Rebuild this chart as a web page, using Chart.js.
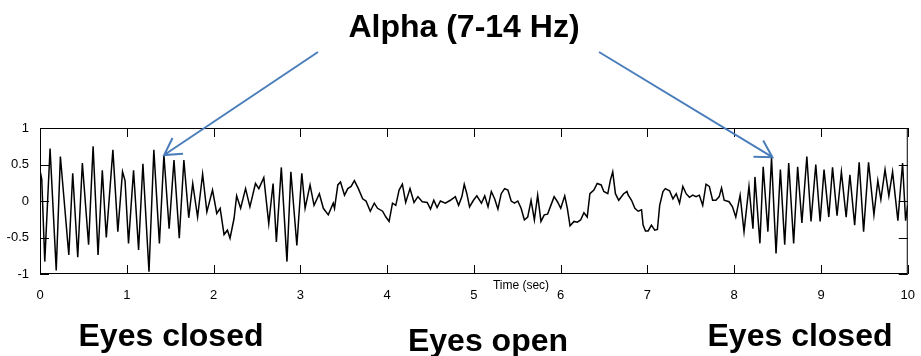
<!DOCTYPE html>
<html>
<head>
<meta charset="utf-8">
<script src="https://cdn.jsdelivr.net/npm/chart.js@4/dist/chart.umd.min.js"></script>
<style>
    html, body { margin: 0; padding: 0; background: #fff; }
    #wrap { position: relative; width: 921px; height: 356px; }
    .lbl {
        position: absolute;
        transform: translate(-50%, -50%);
        font-family: Arial, "Liberation Sans", sans-serif;
        font-weight: bold;
        font-size: 32px;
        line-height: 1;
        white-space: nowrap;
        color: #000;
    }
    .axis-name { font-weight: normal; font-size: 12px; }
</style>
</head>
<body>
<div id="wrap">
    <canvas id="eeg-chart" width="921" height="356"></canvas>
    <div class="lbl" style="left:464px; top:26px;">Alpha (7-14 Hz)</div>
    <div class="lbl axis-name" style="left:521px; top:285px;">Time (sec)</div>
    <div class="lbl" style="left:171px; top:335px;">Eyes closed</div>
    <div class="lbl" style="left:488px; top:340px;">Eyes open</div>
    <div class="lbl" style="left:800px; top:335px;">Eyes closed</div>
</div>
<script>
// time (s) and amplitude
const timeSec = [
    0.00, 0.02, 0.055, 0.116, 0.187, 0.235, 0.332, 0.377, 0.435, 0.488,
    0.56, 0.612, 0.669, 0.718, 0.764, 0.84, 0.897, 0.951, 0.98, 1.02,
    1.078, 1.136, 1.186, 1.256, 1.312, 1.376, 1.428, 1.488, 1.544, 1.605,
    1.658, 1.714, 1.76, 1.816, 1.874, 1.923, 1.988, 2.037, 2.076, 2.121,
    2.16, 2.19, 2.236, 2.266, 2.312, 2.369, 2.419, 2.483, 2.522, 2.579,
    2.636, 2.686, 2.724, 2.781, 2.846, 2.891, 2.96, 3.017, 3.055, 3.112,
    3.158, 3.219, 3.265, 3.322, 3.379, 3.394, 3.432, 3.463, 3.509, 3.547,
    3.585, 3.623, 3.669, 3.718, 3.757, 3.806, 3.852, 3.89, 3.948, 3.986,
    4.023, 4.062, 4.10, 4.138, 4.176, 4.214, 4.264, 4.31, 4.355, 4.405,
    4.462, 4.50, 4.538, 4.576, 4.614, 4.671, 4.729, 4.786, 4.824, 4.862,
    4.889, 4.919, 4.95, 4.995, 5.034, 5.087, 5.125, 5.163, 5.201, 5.239,
    5.277, 5.315, 5.354, 5.392, 5.43, 5.468, 5.506, 5.544, 5.582, 5.62,
    5.659, 5.697, 5.735, 5.773, 5.811, 5.849, 5.887, 5.925, 5.963, 6.001,
    6.047, 6.077, 6.108, 6.154, 6.192, 6.23, 6.268, 6.306, 6.337, 6.383,
    6.421, 6.467, 6.497, 6.543, 6.574, 6.60, 6.631, 6.669, 6.726, 6.764,
    6.779, 6.817, 6.855, 6.893, 6.932, 6.95, 6.977, 7.008, 7.046, 7.084,
    7.115, 7.141, 7.179, 7.206, 7.255, 7.294, 7.332, 7.37, 7.408, 7.446,
    7.484, 7.522, 7.56, 7.598, 7.637, 7.675, 7.713, 7.751, 7.789, 7.827,
    7.854, 7.884, 7.941, 7.98, 8.018, 8.068, 8.113, 8.17, 8.216, 8.239,
    8.296, 8.334, 8.388, 8.43, 8.482, 8.532, 8.582, 8.628, 8.685, 8.731,
    8.78, 8.837, 8.885, 8.94, 8.99, 9.035, 9.09, 9.133, 9.185, 9.235,
    9.29, 9.333, 9.388, 9.44, 9.491, 9.548, 9.61, 9.655, 9.69, 9.738,
    9.782, 9.825, 9.857, 9.886, 9.94, 9.975, 10.0
];
const amplitude = [
    0.42, 0.30, -0.83, 0.72, -0.95, 0.61, -0.74, 0.38, -0.77, 0.52,
    -0.60, 0.75, -0.74, 0.42, -0.50, 0.70, -0.42, 0.40, 0.28, -0.58,
    0.42, -0.67, 0.51, -0.97, 0.70, -0.58, 0.63, -0.38, 0.56, -0.51,
    0.56, -0.23, 0.24, -0.22, 0.37, -0.15, 0.15, -0.17, -0.10, -0.46,
    -0.40, -0.51, -0.24, 0.07, -0.10, 0.17, -0.08, 0.24, 0.17, 0.32,
    -0.31, 0.24, -0.56, 0.46, -0.83, 0.40, -0.61, 0.38, -0.10, 0.22,
    -0.06, 0.10, -0.10, -0.19, -0.03, -0.10, 0.22, 0.26, 0.08, 0.17,
    0.20, 0.28, 0.17, 0.03, 0.00, -0.14, -0.03, -0.10, -0.14, -0.22,
    -0.28, -0.03, -0.06, 0.15, 0.23, -0.02, 0.17, -0.02, 0.06, -0.01,
    -0.02, -0.11, 0.01, -0.09, 0.00, -0.03, 0.01, 0.06, -0.06, 0.06,
    0.23, 0.10, -0.08, 0.01, 0.07, -0.03, 0.07, -0.08, 0.13, 0.03,
    -0.11, 0.10, 0.17, 0.15, 0.00, -0.03, 0.00, -0.10, -0.26, -0.22,
    0.01, -0.26, 0.08, -0.28, -0.19, -0.18, -0.06, 0.06, -0.01, -0.10,
    0.07, -0.10, -0.34, -0.28, -0.29, -0.26, -0.16, -0.22, 0.10, 0.15,
    0.24, 0.22, 0.13, 0.10, 0.29, 0.40, 0.10, 0.01, 0.10, 0.13,
    0.08, 0.01, -0.10, -0.14, -0.12, -0.33, -0.41, -0.41, -0.33, -0.40,
    -0.39, -0.06, 0.13, 0.17, 0.14, 0.03, 0.10, -0.03, 0.20, 0.10,
    0.05, 0.08, 0.06, 0.08, -0.06, 0.23, 0.20, 0.01, 0.01, 0.06,
    0.18, 0.01, -0.01, -0.08, -0.22, 0.08, -0.42, 0.20, -0.38, 0.33,
    -0.58, 0.47, -0.42, 0.59, -0.72, 0.43, -0.60, 0.52, -0.58, 0.47,
    -0.30, 0.61, -0.28, 0.50, -0.28, 0.43, -0.22, 0.46, -0.20, 0.40,
    -0.22, 0.36, -0.33, 0.53, -0.42, 0.53, -0.19, 0.28, 0.02, 0.43,
    0.07, 0.40, 0.05, -0.27, 0.52, -0.27, -0.05
];
const xTicks = [0, 1, 2, 3, 4, 5, 6, 7, 8, 9, 10];
const yTicks = [-1, -0.5, 0, 0.5, 1];
// alpha bursts the arrows point at [time, amplitude]
const arrowTargets = [[1.43, 0.63], [8.44, 0.60]];
const arrowStarts = [[318, 52], [599, 52]];

const ctx = document.getElementById("eeg-chart");

const points = timeSec.map((t, i) => ({ x: t, y: amplitude[i] }));

// box, inward ticks on all four sides, and the blue arrows
const frameAndArrows = {
    id: "frameAndArrows",
    afterDraw(chart) {
        const c = chart.ctx;
        const { left, right, top, bottom } = chart.chartArea;
        const xs = chart.scales.x;
        const ys = chart.scales.y;
        const tick = 9;
        c.save();
        c.strokeStyle = "#000";
        c.lineWidth = 1;
        c.strokeRect(left + 0.5, top + 0.5, right - left - 1, bottom - top - 1);
        c.beginPath();
        xTicks.forEach((v) => {
            const px = Math.round(xs.getPixelForValue(v)) + 0.5;
            c.moveTo(px, top);
            c.lineTo(px, top + tick);
            c.moveTo(px, bottom);
            c.lineTo(px, bottom - tick);
        });
        yTicks.forEach((v) => {
            const py = Math.round(ys.getPixelForValue(v)) + 0.5;
            c.moveTo(left, py);
            c.lineTo(left + tick, py);
            c.moveTo(right, py);
            c.lineTo(right - tick, py);
        });
        c.stroke();

        c.strokeStyle = "#4A7EBB";
        c.lineWidth = 2;
        arrowTargets.forEach((target, i) => {
            const tx = xs.getPixelForValue(target[0]);
            const ty = ys.getPixelForValue(target[1]);
            const [sx, sy] = arrowStarts[i];
            const ang = Math.atan2(sy - ty, sx - tx);
            const head = 19;
            c.beginPath();
            c.moveTo(sx, sy);
            c.lineTo(tx, ty);
            c.moveTo(tx + head * Math.cos(ang - 0.52), ty + head * Math.sin(ang - 0.52));
            c.lineTo(tx, ty);
            c.lineTo(tx + head * Math.cos(ang + 0.52), ty + head * Math.sin(ang + 0.52));
            c.stroke();
        });
        c.restore();
    },
};

const tickFont = { family: "Arial, 'Liberation Sans', sans-serif", size: 13 };

new Chart(ctx, {
    type: "line",
    data: {
        datasets: [
            {
                label: "EEG",
                data: points,
                borderColor: "#000",
                borderWidth: 1.5,
                pointRadius: 0,
                tension: 0,
                fill: false,
            },
        ],
    },
    options: {
        responsive: false,
        animation: false,
        layout: { padding: { top: 128, right: 7, bottom: 52, left: 0 } },
        plugins: { legend: { display: false }, tooltip: { enabled: false } },
        scales: {
            x: {
                type: "linear",
                min: 0,
                max: 10,
                grid: { display: false },
                border: { display: false },
                afterBuildTicks: (s) => { s.ticks = xTicks.map((v) => ({ value: v })); },
                afterFit: (s) => { s.height = 30; },
                ticks: { color: "#000", font: tickFont, padding: 6, maxRotation: 0, autoSkip: false,
                    callback: (v) => String(v) },
            },
            y: {
                min: -1,
                max: 1,
                grid: { display: false },
                border: { display: false },
                afterBuildTicks: (s) => { s.ticks = yTicks.map((v) => ({ value: v })); },
                afterFit: (s) => { s.width = 40; },
                ticks: { color: "#000", font: tickFont, padding: 3, callback: (v) => String(v) },
            },
        },
    },
    plugins: [frameAndArrows],
});
</script>
</body>
</html>
